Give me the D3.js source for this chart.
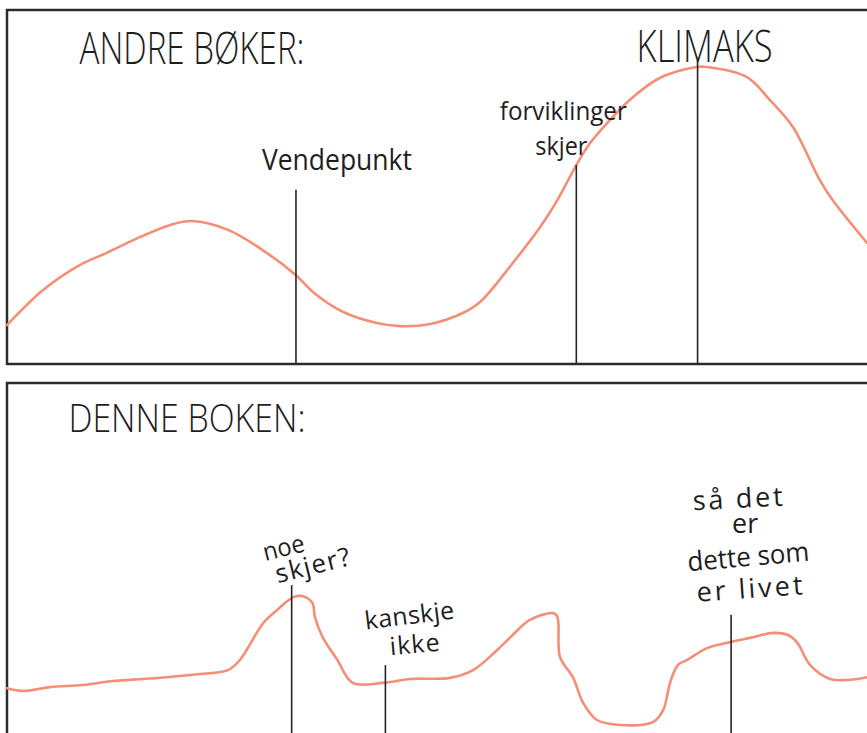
<!DOCTYPE html>
<html>
<head>
<meta charset="utf-8">
<script src="https://cdn.jsdelivr.net/npm/d3@7"></script>
<style>
    body { margin: 0; background: #fff; }
    text { font-family: "Open Sans", "DejaVu Sans", sans-serif; fill: #1e1e1e; }
</style>
</head>
<body>
<svg id="chart" width="867" height="733"></svg>
<script>
// story position (0-100) and tension (0-100)
const andreX = [0, 4.2, 8.5, 11.6, 15.5, 19.0, 21.5, 25.7, 30.2, 33.6, 35.6, 39.1, 43.0, 45.7, 49.2, 53.0, 55.0, 58.8, 62.0, 64.0, 66.2, 67.8, 69.8, 72.4, 75.9, 80.2, 81.4, 86.0, 88.7, 91.4, 94.5, 96.0, 100];
const andreY = [11.0, 20.9, 28.0, 31.4, 35.9, 39.3, 40.4, 37.9, 31.4, 25.1, 20.3, 14.7, 11.6, 10.7, 11.3, 14.4, 17.5, 28.5, 38.7, 46.3, 56.2, 62.4, 68.1, 74.6, 80.8, 83.9, 83.9, 81.1, 74.6, 66.9, 52.0, 46.3, 34.2];

const denneX = [0, 1.9, 5.0, 8.8, 12.3, 15.8, 18.6, 22.4, 25.7, 27.1, 29.8, 31.4, 33.3, 34.3, 35.5, 35.8, 36.7, 38.4, 40.2, 43.7, 46.9, 51.5, 54.2, 57.0, 58.8, 60.8, 63.5, 64.0, 64.3, 65.8, 67.0, 68.6, 71.3, 75.1, 76.3, 77.1, 78.0, 79.1, 81.4, 84.1, 86.4, 89.1, 90.8, 91.9, 93.4, 95.7, 97.7, 100];
const denneY = [13.8, 13.0, 14.1, 14.7, 15.8, 16.4, 16.9, 17.8, 18.9, 21.8, 32.2, 35.9, 39.5, 39.8, 37.9, 33.9, 28.2, 21.8, 15.3, 15.3, 16.4, 16.7, 18.9, 24.6, 28.8, 33.1, 35.0, 33.9, 22.6, 16.9, 9.6, 4.8, 3.4, 4.2, 7.6, 15.3, 20.3, 21.8, 25.1, 26.8, 28.0, 29.4, 28.8, 26.6, 20.3, 16.4, 16.1, 16.9];

// marker positions and how high each marker line reaches
const andreMarkX = [33.6, 66.2, 80.3];
const andreMarkTop = [49.2, 56.2, 85.9];
const denneMarkX = [33.1, 44.0, 84.2];
const denneMarkTop = [42.9, 20.3, 34.5];

// texts
const panelTitles = ['ANDRE BØKER:', 'DENNE BOKEN:'];
const andreNotes = [['Vendepunkt'], ['forviklinger', 'skjer'], ['KLIMAKS']];
const denneNotes = [['noe', 'skjer?'], ['kanskje', 'ikke'], ['så det', 'er', 'dette som', 'er livet']];

const svg = d3.select('#chart');
const salmon = '#f48f77';
const ink = '#242424';

const x = d3.scaleLinear().domain([0, 100]).range([7, 867]);
const yTop = d3.scaleLinear().domain([0, 100]).range([364, 10]);
const yBot = d3.scaleLinear().domain([0, 100]).range([737, 383]);

// --- panel frames ---
const frame = (y0, y1) => {
    svg.append('path')
        .attr('d', `M868,${y0}H${x(0)}V${y1}H868`)
        .attr('fill', 'none')
        .attr('stroke', '#2c2c2c')
        .attr('stroke-width', 2.5);
};
frame(yTop(100), yTop(0));
frame(yBot(100), yBot(0));

// --- curves ---
const drawCurve = (xs, ys, yScale) => {
    const pts = xs.map((v, i) => [v, ys[i]]);
    const line = d3.line()
        .x(d => x(d[0]))
        .y(d => yScale(d[1]))
        .curve(d3.curveCatmullRom.alpha(0.5));
    svg.append('path')
        .attr('d', line(pts))
        .attr('fill', 'none')
        .attr('stroke', salmon)
        .attr('stroke-width', 2.6)
        .attr('stroke-linecap', 'round')
        .attr('stroke-linejoin', 'round');
};
drawCurve(andreX, andreY, yTop);
drawCurve(denneX, denneY, yBot);

// --- marker lines ---
const drawMarks = (xs, tops, yScale) => {
    svg.append('g').selectAll('line')
        .data(xs)
        .enter().append('line')
        .attr('x1', d => x(d))
        .attr('x2', d => x(d))
        .attr('y1', (d, i) => yScale(tops[i]))
        .attr('y2', yScale(0))
        .attr('stroke', ink)
        .attr('stroke-width', 1.6);
};
drawMarks(andreMarkX, andreMarkTop, yTop);
drawMarks(denneMarkX, denneMarkTop, yBot);

// --- text ---
// narrow glyphs when the word is too wide, otherwise spread the letters (hand lettering look)
const label = (t, cx, cy, size, width, rot, weight) => {
    const el = svg.append('text')
        .attr('x', cx)
        .attr('y', cy)
        .attr('text-anchor', 'middle')
        .attr('font-size', size)
        .attr('font-weight', weight || 400)
        .attr('transform', rot ? `rotate(${rot},${cx},${cy})` : null)
        .text(t);
    const natural = el.node().getComputedTextLength();
    el.attr('textLength', width)
        .attr('lengthAdjust', natural > width ? 'spacingAndGlyphs' : 'spacing');
};

label(panelTitles[0], 192, 64, 44, 225, 0, 300);
label(panelTitles[1], 187, 432, 38, 237, 0, 300);

// andre bøker notes
label(andreNotes[0][0], x(andreMarkX[0]) + 41, 170, 30, 150, 0);
label(andreNotes[1][0], x(andreMarkX[1]) - 13, 120, 26, 127, 0);
label(andreNotes[1][1], x(andreMarkX[1]) - 15, 155, 26, 52, 0);
label(andreNotes[2][0], x(andreMarkX[2]) + 7, 62, 44, 136, 0, 300);

// denne boken notes
label(denneNotes[0][0], x(denneMarkX[0]) - 6, 556, 25, 42, -14);
label(denneNotes[0][1], x(denneMarkX[0]) + 23, 574, 26, 76, -14);
label(denneNotes[1][0], x(denneMarkX[1]) + 25, 624, 25, 90, -7);
label(denneNotes[1][1], x(denneMarkX[1]) + 30, 653, 25, 50, -5);
label(denneNotes[2][0], x(denneMarkX[2]) + 7, 508, 27, 90, -3);
label(denneNotes[2][1], x(denneMarkX[2]) + 14, 533, 27, 26, 0);
label(denneNotes[2][2], x(denneMarkX[2]) + 18, 566, 27, 122, -5);
label(denneNotes[2][3], x(denneMarkX[2]) + 19, 598, 27, 106, -4);
</script>
</body>
</html>
